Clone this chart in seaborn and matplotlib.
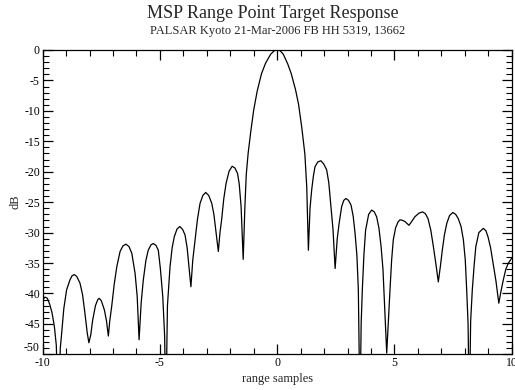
import matplotlib
matplotlib.use("Agg")
import matplotlib.pyplot as plt
import seaborn as sns
import pandas as pd
from matplotlib.ticker import MultipleLocator

title = "MSP Range Point Target Response"
subtitle = "PALSAR Kyoto 21-Mar-2006 FB HH 5319, 13662"
x_label = "range samples"
y_label = "dB"

samples = [
    -10.00, -9.90, -9.80, -9.70, -9.60, -9.50, -9.42, -9.33, -9.25, -9.19,
    -9.10, -8.98, -8.84, -8.75, -8.65, -8.55, -8.41, -8.30, -8.20, -8.10,
    -8.03, -7.95, -7.87, -7.75, -7.65, -7.59, -7.50, -7.37, -7.28, -7.20,
    -7.14, -7.06, -6.95, -6.84, -6.70, -6.58, -6.45, -6.32, -6.20, -6.06,
    -5.97, -5.89, -5.80, -5.71, -5.60, -5.50, -5.38, -5.28, -5.17, -5.07,
    -4.98, -4.88, -4.80, -4.75, -4.68, -4.57, -4.48, -4.39, -4.27, -4.15,
    -4.03, -3.93, -3.84, -3.79, -3.68, -3.60, -3.50, -3.40, -3.29, -3.17,
    -3.05, -2.92, -2.79, -2.70, -2.62, -2.51, -2.44, -2.37, -2.28, -2.18,
    -2.05, -1.92, -1.80, -1.69, -1.62, -1.54, -1.45, -1.38, -1.32, -1.24,
    -1.13, -1.00, -0.85, -0.67, -0.50, -0.28, -0.12, 0.00, 0.12, 0.26,
    0.45, 0.60, 0.78, 0.91, 1.05, 1.18, 1.26, 1.33, 1.40, 1.47,
    1.54, 1.61, 1.73, 1.86, 1.98, 2.11, 2.20, 2.29, 2.38, 2.47,
    2.56, 2.64, 2.75, 2.84, 2.93, 3.04, 3.15, 3.24, 3.32, 3.40,
    3.46, 3.53, 3.58, 3.63, 3.70, 3.77, 3.90, 4.03, 4.14, 4.24,
    4.34, 4.43, 4.51, 4.57, 4.67, 4.74, 4.81, 4.88, 4.95, 5.05,
    5.16, 5.24, 5.35, 5.45, 5.62, 5.75, 5.87, 6.05, 6.20, 6.32,
    6.43, 6.55, 6.66, 6.78, 6.87, 6.96, 7.04, 7.13, 7.23, 7.35,
    7.49, 7.61, 7.72, 7.84, 7.94, 8.02, 8.08, 8.14, 8.19, 8.25,
    8.32, 8.40, 8.47, 8.60, 8.79, 8.90, 8.99, 9.10, 9.21, 9.33,
    9.45, 9.55, 9.64, 9.75, 9.86, 10.00,
]

response_db = [
    -41.0, -40.6, -40.8, -41.8, -43.2, -45.5, -48.5, -60.0, -49.0, -46.5,
    -42.5, -39.4, -37.8, -37.1, -36.9, -37.2, -38.3, -40.2, -43.2, -46.5,
    -48.1, -46.8, -44.4, -42.0, -41.0, -40.8, -41.2, -42.7, -44.5, -47.0,
    -44.5, -42.2, -38.5, -35.6, -33.1, -32.2, -31.9, -32.3, -33.4, -36.7,
    -40.5, -47.6, -41.5, -37.8, -34.6, -32.9, -32.0, -31.8, -32.1, -32.9,
    -36.0, -40.5, -47.0, -60.0, -42.0, -35.6, -32.5, -30.7, -29.4, -29.0,
    -29.5, -30.4, -32.5, -34.5, -38.9, -34.5, -31.2, -27.8, -25.2, -23.9,
    -23.4, -23.9, -25.2, -27.0, -29.6, -33.1, -30.0, -27.9, -24.5, -21.9,
    -19.9, -19.1, -19.4, -20.3, -22.0, -25.7, -34.4, -26.0, -20.5, -17.0,
    -13.5, -9.8, -6.7, -3.9, -2.2, -0.7, -0.1, 0.0, -0.1, -0.7,
    -2.3, -3.9, -6.5, -8.9, -12.8, -17.1, -22.5, -32.9, -26.0, -23.0,
    -20.8, -19.2, -18.4, -18.2, -18.7, -19.7, -21.8, -25.7, -29.5, -35.9,
    -31.0, -28.5, -25.7, -24.7, -24.4, -24.7, -25.5, -27.3, -30.1, -33.8,
    -39.4, -60.0, -45.0, -39.4, -33.5, -29.6, -27.0, -26.3, -26.6, -27.4,
    -29.3, -32.3, -36.0, -41.1, -49.8, -44.5, -39.4, -34.5, -31.2, -29.2,
    -28.2, -27.9, -28.0, -28.2, -28.8, -28.1, -27.4, -26.8, -26.6, -26.9,
    -27.7, -29.6, -32.3, -35.5, -38.1, -35.5, -32.9, -30.4, -28.5, -27.2,
    -26.7, -27.0, -27.7, -29.0, -31.2, -34.5, -39.4, -45.0, -60.0, -44.5,
    -39.4, -35.3, -32.3, -30.0, -29.3, -29.7, -30.7, -32.5, -35.1, -38.0,
    -41.6, -39.5, -37.8, -36.0, -35.0, -34.2,
]

x_ticks = [-10, -5, 0, 5, 10]
y_ticks = [0, -5, -10, -15, -20, -25, -30, -35, -40, -45, -50]

sns.set_theme(style="ticks")
plt.rcParams["font.family"] = ["Liberation Serif", "DejaVu Serif"]

df = pd.DataFrame({"x": samples, "y": response_db})

fig = plt.figure(figsize=(5.15, 3.9), dpi=100)
ax = fig.add_axes([0.0829, 0.0915, 0.9107, 0.7803])
sns.lineplot(data=df, x="x", y="y", ax=ax, color="black", linewidth=0.9,
             estimator=None, sort=False)

ax.set_xlim(-10, 10)
ax.set_ylim(-50, 0)
ax.set_xticks(x_ticks)
ax.set_xticklabels([str(t) for t in x_ticks])
ax.set_yticks(y_ticks)
ax.set_yticklabels([str(t) for t in y_ticks])
ax.xaxis.set_minor_locator(MultipleLocator(1))
ax.yaxis.set_minor_locator(MultipleLocator(1))
ax.tick_params(which="both", direction="in", top=True, right=True,
               colors="black", labelsize=8.5, pad=2)
ax.tick_params(which="major", length=7, width=0.9)
ax.tick_params(which="minor", length=4, width=0.8)
for s in ax.spines.values():
    s.set_color("black")
    s.set_linewidth(0.9)

# raise the bottom y label slightly, as in the reference
ylabels = ax.get_yticklabels()
ylabels[-1].set_va("bottom")

ax.set_xlabel(x_label, fontsize=9, labelpad=3)
ax.set_ylabel(y_label, fontsize=9, labelpad=2)

fig.text(0.5 + 0.03, 0.954, title, ha="center", va="baseline", fontsize=13)
fig.text(0.5 + 0.04, 0.913, subtitle, ha="center", va="baseline", fontsize=9)

fig.savefig("out.png", dpi=100, facecolor="white")
